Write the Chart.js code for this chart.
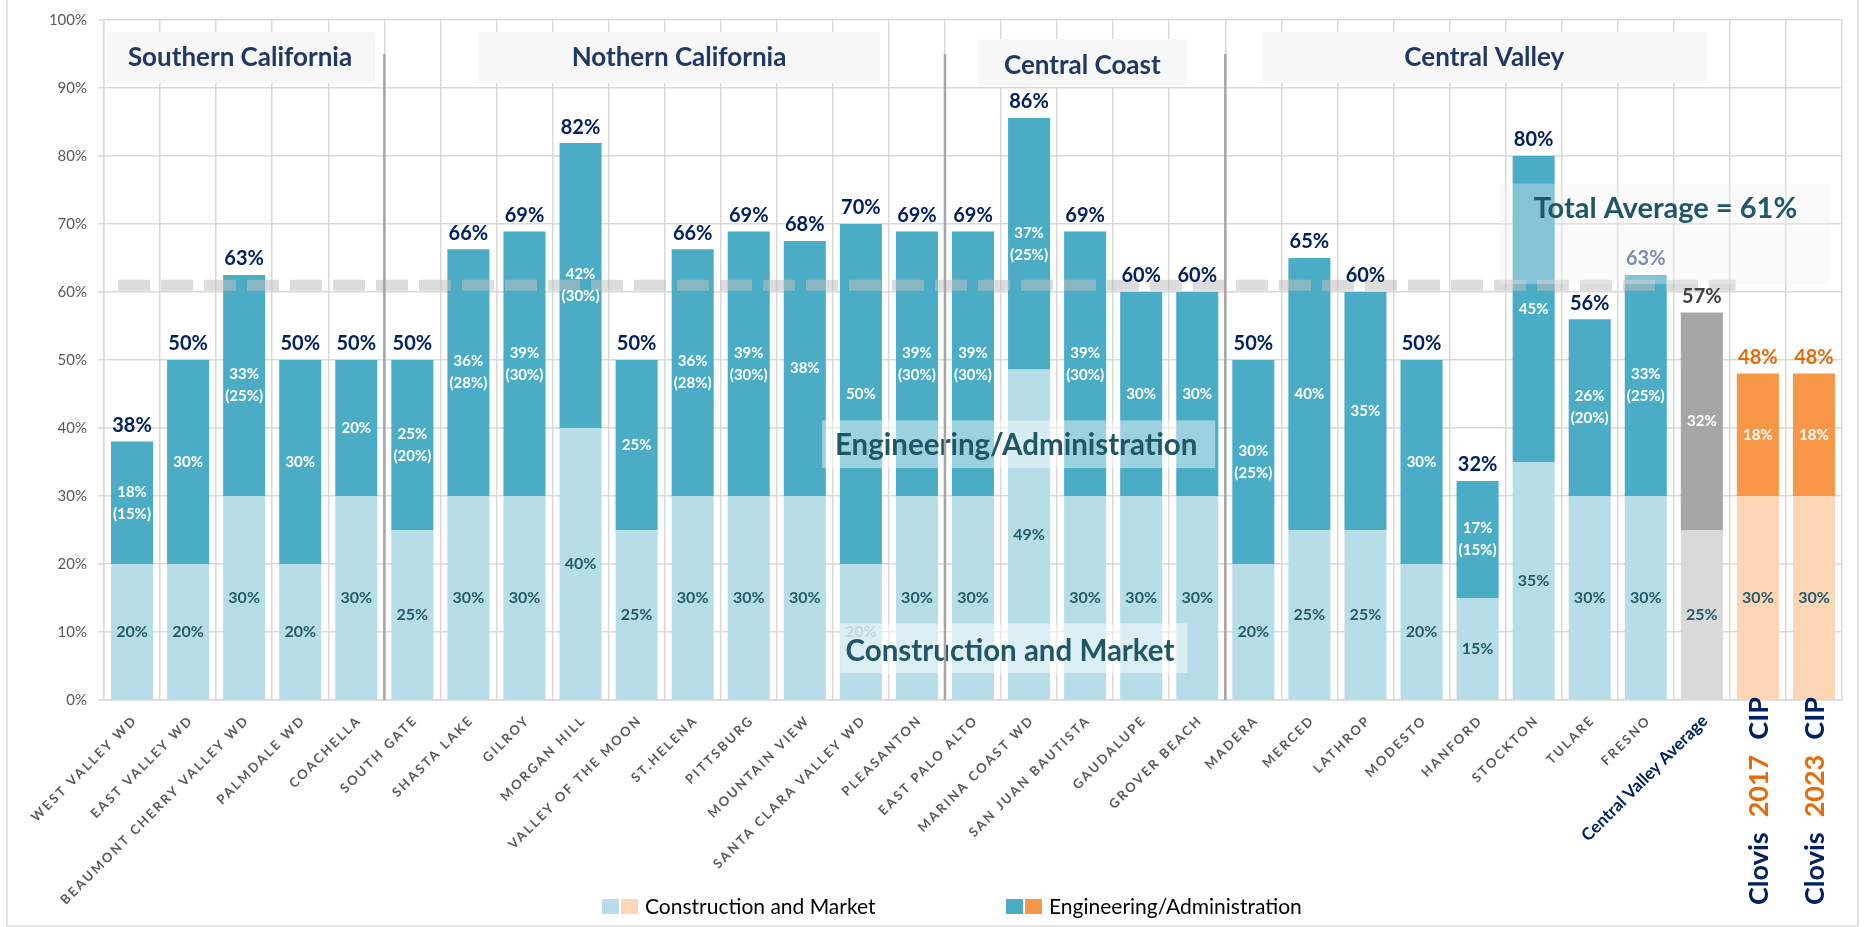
<!DOCTYPE html>
<html>
<head>
<meta charset="utf-8">
<script src="https://cdn.jsdelivr.net/npm/chart.js@4.4.1/dist/chart.umd.min.js"></script>
<style>
  html, body { margin: 0; padding: 0; background: #fff; }
  canvas { display: block; }
</style>
</head>
<body>
<canvas id="chart" width="1864" height="927"></canvas>
<script>
const categories = [
  'WEST VALLEY WD', 'EAST VALLEY WD', 'BEAUMONT CHERRY VALLEY WD', 'PALMDALE WD', 'COACHELLA',
  'SOUTH GATE', 'SHASTA LAKE', 'GILROY', 'MORGAN HILL', 'VALLEY OF THE MOON', 'ST.HELENA',
  'PITTSBURG', 'MOUNTAIN VIEW', 'SANTA CLARA VALLEY WD', 'PLEASANTON', 'EAST PALO ALTO',
  'MARINA COAST WD', 'SAN JUAN BAUTISTA', 'GAUDALUPE', 'GROVER BEACH', 'MADERA', 'MERCED',
  'LATHROP', 'MODESTO', 'HANFORD', 'STOCKTON', 'TULARE', 'FRESNO',
  'Central Valley Average', 'Clovis 2017 CIP', 'Clovis 2023 CIP'
];
// Construction and Market share (%)
const construction = [20, 20, 30, 20, 30, 25, 30, 30, 40, 25, 30, 30, 30, 20, 30, 30, 48.6, 30, 30, 30,
  20, 25, 25, 20, 15, 35, 30, 30, 25, 30, 30];
// Engineering/Administration share (%)
const engineering = [18, 30, 32.5, 30, 20, 25, 36.3, 38.9, 41.9, 25, 36.3, 38.9, 37.5, 50, 38.9, 38.9, 37, 38.9, 30, 30,
  30, 40, 35, 30, 17.2, 45, 26, 32.5, 32, 18, 18];
// value shown in brackets under the engineering share
const engineeringBracket = [15, null, 25, null, null, 20, 28, 30, 30, null, 28, 30, null, null, 30, 30, 25, 30, null, null,
  25, null, null, null, 15, null, 20, 25, null, null, null];
const totalAverage = 61;
const regions = ['Southern California', 'Nothern California', 'Central Coast', 'Central Valley'];

const FONT = 'Lato, "Open Sans", sans-serif';
const NAVY = '#002060';
const TEAL = '#1f5767';

function barColors(i) {
  if (i === 28) return ['#d9d9d9', '#a6a6a6'];
  if (i >= 29) return ['#fcd5b5', '#f79646'];
  return ['#b7dde8', '#4bacc6'];
}

function totalColor(i) {
  if (i === 27) return '#44548a';
  if (i === 28) return '#404040';
  if (i >= 29) return '#e46c0a';
  return NAVY;
}

const pct = v => Math.round(v) + '%';

const overlay = {
  id: 'overlay',
  afterDatasetsDraw(chart) {
    const ctx = chart.ctx;
    const px = v => chart.scales.x.getPixelForValue(v);
    const py = v => chart.scales.y.getPixelForValue(v);

    // dashed total average line
    ctx.save();
    ctx.strokeStyle = 'rgba(191,191,191,0.55)';
    ctx.lineWidth = 11;
    ctx.setLineDash([32, 11]);
    ctx.beginPath();
    ctx.moveTo(px(-0.25), py(totalAverage));
    ctx.lineTo(px(28.6), py(totalAverage));
    ctx.stroke();
    ctx.restore();

    // data labels
    const m0 = chart.getDatasetMeta(0), m1 = chart.getDatasetMeta(1);
    ctx.save();
    ctx.textAlign = 'center';
    ctx.textBaseline = 'middle';
    categories.forEach((c, i) => {
      const b0 = m0.data[i], b1 = m1.data[i];
      ctx.font = 'bold 16px ' + FONT;
      ctx.fillStyle = i === 13 ? '#8fa9b0' : '#245b6b';
      ctx.fillText(pct(construction[i]), b0.x, (b0.y + b0.base) / 2);

      ctx.font = 'bold 15px ' + FONT;
      ctx.fillStyle = '#ffffff';
      const mid = (b1.y + b1.base) / 2;
      if (engineeringBracket[i] != null) {
        ctx.fillText(pct(engineering[i]), b1.x, mid - 11);
        ctx.fillText('(' + engineeringBracket[i] + '%)', b1.x, mid + 11);
      } else {
        ctx.fillText(pct(engineering[i]), b1.x, mid);
      }

      ctx.font = 'bold 20px ' + FONT;
      ctx.fillStyle = totalColor(i);
      ctx.fillText(pct(construction[i] + engineering[i]), b1.x, b1.y - 16);
    });
    ctx.restore();

    const box = (x0, x1, y0, y1, fill) => {
      ctx.fillStyle = fill;
      ctx.fillRect(px(x0), py(y0), px(x1) - px(x0), py(y1) - py(y0));
    };
    const text = (s, xv, yv, size, color) => {
      ctx.font = 'bold ' + size + 'px ' + FONT;
      ctx.fillStyle = color;
      ctx.textAlign = 'center';
      ctx.textBaseline = 'middle';
      ctx.fillText(s, px(xv), py(yv));
    };

    ctx.save();
    // overlay captions
    box(24.4, 30.29, 75.95, 61.17, 'rgba(242,242,242,0.35)');
    text('Total Average = ' + totalAverage + '%', 27.35, 72.2, 29, TEAL);
    box(12.31, 19.32, 41.12, 34.1, 'rgba(255,255,255,0.45)');
    text('Engineering/Administration', 15.77, 37.4, 29.5, TEAL);
    box(12.63, 18.82, 11.27, 3.95, 'rgba(255,255,255,0.5)');
    text('Construction and Market', 15.66, 7.2, 29.5, TEAL);

    // region headers
    box(-0.446, 4.334, 98.2, 90.7, '#f7f7f7');
    text(regions[0], 1.926, 94.5, 26, '#1f3864');
    box(6.17, 13.34, 98.2, 90.7, '#f7f7f7');
    text(regions[1], 9.757, 94.5, 26, '#1f3864');
    box(15.09, 18.82, 97.2, 90.15, '#f7f7f7');
    text(regions[2], 16.95, 93.3, 26, '#1f3864');
    box(20.16, 28.1, 98.2, 90.7, '#f7f7f7');
    text(regions[3], 24.12, 94.5, 26, '#1f3864');

    // region separators
    ctx.strokeStyle = '#a6a6a6';
    ctx.lineWidth = 2.5;
    [4.5, 14.5, 19.5].forEach(v => {
      ctx.beginPath();
      ctx.moveTo(px(v), py(95));
      ctx.lineTo(px(v), py(0));
      ctx.stroke();
    });
    ctx.restore();
  },
  afterDraw(chart) {
    const ctx = chart.ctx;
    const xs = chart.scales.x;
    const bottom = chart.chartArea.bottom;

    // category labels
    categories.forEach((name, i) => {
      const cx = xs.getPixelForValue(i);
      ctx.save();
      if (i >= 29) {
        const parts = name.split(' ');
        ctx.translate(cx + 1, bottom + 205);
        ctx.rotate(-Math.PI / 2);
        ctx.font = 'bold 27px ' + FONT;
        ctx.textAlign = 'left';
        ctx.textBaseline = 'middle';
        let pos = 0;
        parts.forEach((p, k) => {
          ctx.fillStyle = k === 1 ? '#e46c0a' : NAVY;
          ctx.fillText(p, pos, 0);
          pos += ctx.measureText(p).width + 15;
        });
      } else {
        ctx.translate(cx + 3, bottom + 18);
        ctx.rotate(-Math.PI / 4);
        ctx.textAlign = 'right';
        ctx.textBaseline = 'middle';
        if (i === 28) {
          ctx.font = 'bold 17px ' + FONT;
          ctx.fillStyle = NAVY;
        } else {
          ctx.font = 'bold 13px ' + FONT;
          ctx.letterSpacing = '2.2px';
          ctx.fillStyle = '#595959';
        }
        ctx.fillText(name, 0, 0);
      }
      ctx.restore();
    });

    // legend
    ctx.save();
    ctx.font = '21px ' + FONT;
    ctx.textBaseline = 'middle';
    const legendItems = [
      { label: chart.data.datasets[0].label, x: 602, colors: ['#b7dde8', '#fcd5b5'] },
      { label: chart.data.datasets[1].label, x: 1006, colors: ['#4bacc6', '#f79646'] }
    ];
    legendItems.forEach(it => {
      ctx.fillStyle = it.colors[0];
      ctx.fillRect(it.x, 899, 17, 15);
      ctx.fillStyle = it.colors[1];
      ctx.fillRect(it.x + 19, 899, 17, 15);
      ctx.fillStyle = '#000';
      ctx.fillText(it.label, it.x + 43, 907);
    });
    // chart border
    ctx.strokeStyle = '#d9d9d9';
    ctx.lineWidth = 1.5;
    ctx.strokeRect(7, -2, 1851, 928);
    ctx.restore();
  }
};

new Chart(document.getElementById('chart'), {
  type: 'bar',
  data: {
    labels: categories,
    datasets: [
      {
        label: 'Construction and Market',
        data: construction,
        backgroundColor: categories.map((_, i) => barColors(i)[0])
      },
      {
        label: 'Engineering/Administration',
        data: engineering,
        backgroundColor: categories.map((_, i) => barColors(i)[1])
      }
    ]
  },
  options: {
    responsive: false,
    animation: false,
    devicePixelRatio: 1,
    layout: { padding: { top: 17, right: 22, left: 0, bottom: 0 } },
    datasets: { bar: { categoryPercentage: 1, barPercentage: 0.75 } },
    plugins: { legend: { display: false }, tooltip: { enabled: false } },
    scales: {
      x: {
        stacked: true,
        offset: true,
        grid: { offset: true, color: '#d9d9d9', lineWidth: 1.5, drawTicks: false },
        border: { color: '#d9d9d9', width: 1.5 },
        ticks: { display: false },
        afterFit: s => { s.height = 227; }
      },
      y: {
        stacked: true,
        min: 0,
        max: 100,
        grid: { color: '#d9d9d9', lineWidth: 1.5, tickLength: 6 },
        border: { color: '#d9d9d9', width: 1.5 },
        ticks: {
          stepSize: 10,
          padding: 11,
          color: '#595959',
          font: { family: FONT, size: 15 },
          callback: v => v + '%'
        },
        afterFit: s => { s.width = 104; }
      }
    }
  },
  plugins: [overlay]
});
</script>
</body>
</html>
